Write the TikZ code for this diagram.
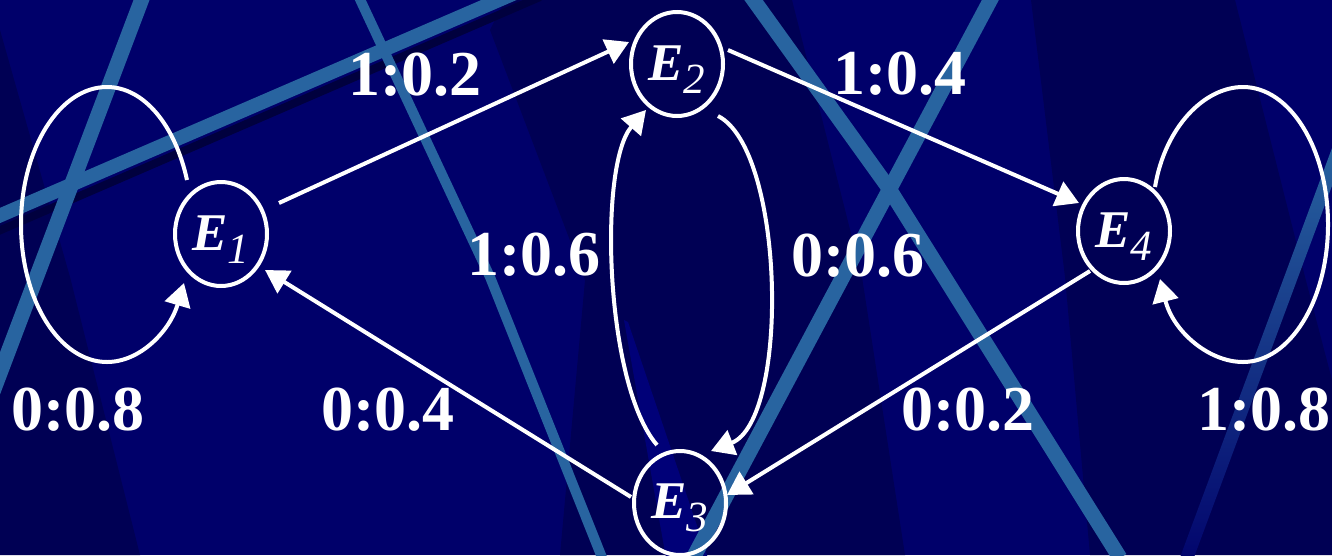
\documentclass[tikz,border=0pt]{standalone}
\usepackage{fontspec}
\setmainfont{Liberation Serif}
\usetikzlibrary{arrows.meta,shapes.geometric,calc}
\definecolor{bgmain}{RGB}{0,0,106}
\definecolor{bgdark}{RGB}{0,0,84}
\definecolor{bgshadow}{RGB}{0,0,62}
\definecolor{bglight}{RGB}{0,0,120}
\definecolor{stripecol}{RGB}{40,100,160}
\newcommand\Elab[1]{\rule{0pt}{45pt}{\fontsize{53}{53}\selectfont\bfseries\itshape E}\raisebox{-13pt}{\fontsize{43}{43}\selectfont\itshape #1}}
\begin{document}
\begin{tikzpicture}[x=1pt,y=-1pt,
  state/.style={ellipse,draw=white,line width=4pt,minimum width=92pt,minimum height=104pt,inner sep=0pt,text=white},
  conn/.style={draw=white,line width=4pt,-{Triangle[length=23pt,width=26pt]}},
  prob/.style={text=white,inner sep=0pt,font=\fontsize{64}{64}\selectfont\bfseries},
  stripe/.style={stripecol,line width=#1}]
\useasboundingbox (0,0) rectangle (1332,555);
\fill[bgmain] (0,0) rectangle (1332,555);
\begin{scope}
\clip (0,0) rectangle (1332,555);
% subtle panels
\fill[bgdark] (0,30) -- (70,277) -- (140,555) -- (0,555) -- cycle;
\fill[bgdark] (490,30) -- (505,0) -- (792,0) -- (862,277) -- (905,555) -- (560,555) -- (585,280) -- cycle;
\fill[bgdark] (1031,0) -- (1235,0) -- (1305,277) -- (1332,380) -- (1332,555) -- (1090,555) -- (1065,277) -- cycle;
\fill[bglight] (624,320) -- (628,322) -- (708,558) -- (666,558) -- cycle;
% stripes
\draw[bgshadow,line width=8pt] (-20,239) -- (540,-3);
\draw[stripe=14pt] (-20,224.1) -- (520,-9.1);
\draw[stripe=15pt] (145.3,-10) -- (-70,558);
\draw[stripe=10pt] (358,-5) -- (490,277) -- (603,560);
\draw[stripe=15pt] (750,-5) -- (888,187) -- (1120,558);
\draw[stripe=15pt] (993,-5) -- (692,560);
\shade[top color=stripecol, middle color=stripecol!80!bgmain, bottom color=stripecol!5!bgmain] (1335,140) -- (1349,140) -- (1193,560) -- (1179,560) -- cycle;
\end{scope}
% states
\node[state] (e1) at (221,234) {\Elab{1}};
\node[state] (e2) at (677,64) {\Elab{2}};
\node[state] (e3) at (680,503) {\Elab{3}};
\node[state] (e4) at (1124,231) {\Elab{4}};
% transitions
\draw[conn] ($(e1)+(58,-31)$) -- ($(e2)+(-48,-22)$);
\draw[conn] ($(e2)+(51,-14)$) -- ($(e4)+(-45,-28)$);
\draw[conn] ($(e4)+(-34,40)$) -- ($(e3)+(47,-8)$);
\draw[conn] ($(e3)+(-49,-6)$) -- ($(e1)+(44,36)$);
\draw[conn] ($(e3)+(-23,-58)$) .. controls (605,385) and (598,165) .. ($(e2)+(-31,46)$);
\draw[conn] ($(e2)+(41,52)$) .. controls (785,150) and (790,420) .. ($(e3)+(31,-52)$);
\draw[conn] ($(e1)+(-34,-54)$) .. controls (175,124.8) and (143.6,87) .. (107,87) .. controls (59.5,87) and (21,148.6) .. (21,224.5) .. controls (21,300.4) and (59.5,362) .. (107,362) .. controls (140.2,362) and (169.8,331) .. ($(e1)+(-37,49)$);
\draw[conn] ($(e4)+(31,-44)$) .. controls (1165,126.9) and (1204.5,87) .. (1243,87) .. controls (1289.9,87) and (1328,148.6) .. (1328,224.5) .. controls (1328,300.4) and (1289.9,362) .. (1243,362) .. controls (1208.4,362) and (1173,331) .. ($(e4)+(36,48)$);
% labels
\node[prob] (l12) at (415,74.5) {1:0.2};
\node[prob] (l24) at (900,73.5) {1:0.4};
\node[prob] (l32) at (534,255) {1:0.6};
\node[prob] (l23) at (858,255.5) {0:0.6};
\node[prob] (l11) at (78,410) {0:0.8};
\node[prob] (l31) at (388,410) {0:0.4};
\node[prob] (l43) at (968,410) {0:0.2};
\node[prob] (l44) at (1264,410) {1:0.8};
\end{tikzpicture}
\end{document}
